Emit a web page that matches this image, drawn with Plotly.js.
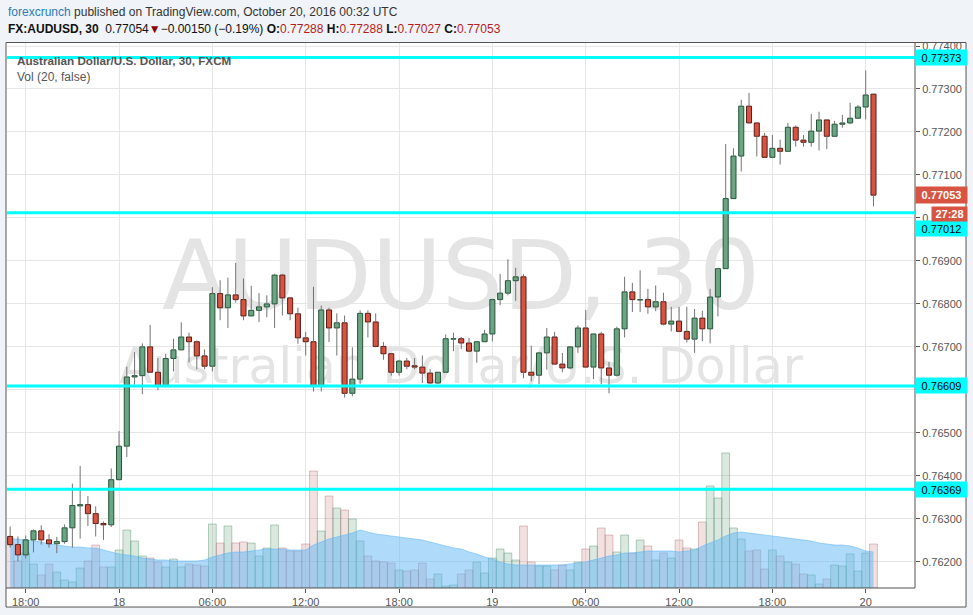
<!DOCTYPE html>
<html><head><meta charset="utf-8">
<script src="https://cdn.plot.ly/plotly-3.0.1.min.js"></script>
<style>html,body{margin:0;padding:0;background:#f0f3f7;}#chart{width:973px;height:615px;}</style>
</head><body><div id="chart"></div>
<script>
// 30-minute candles, FX:AUDUSD, starting 2016-10-17 17:00 UTC
const startUTC = Date.UTC(2016, 9, 17, 17, 0);
const barMs = 30 * 60 * 1000;

const open = [
0.76259,0.76240,0.76216,0.76251,0.76272,0.76251,0.76242,0.76247,0.76279,0.76330,
0.76333,0.76312,0.76289,0.76286,0.76391,0.76469,0.76630,0.76633,0.76700,0.76641,
0.76608,0.76673,0.76693,0.76723,0.76712,0.76679,0.76655,0.76824,0.76791,0.76821,
0.76810,0.76772,0.76785,0.76793,0.76800,0.76867,0.76814,0.76777,0.76721,0.76712,
0.76610,0.76786,0.76744,0.76756,0.76592,0.76625,0.76778,0.76758,0.76701,0.76684,
0.76641,0.76667,0.76656,0.76653,0.76639,0.76616,0.76641,0.76718,0.76719,0.76709,
0.76690,0.76712,0.76730,0.76810,0.76825,0.76854,0.76863,0.76641,0.76634,0.76686,
0.76723,0.76660,0.76651,0.76700,0.76744,0.76653,0.76730,0.76651,0.76634,0.76742,
0.76828,0.76809,0.76810,0.76793,0.76805,0.76753,0.76760,0.76736,0.76718,0.76767,
0.76742,0.76816,0.76882,0.77045,0.77144,0.77260,0.77221,0.77190,0.77141,0.77162,
0.77155,0.77211,0.77181,0.77176,0.77202,0.77228,0.77190,0.77218,0.77221,0.77232,
0.77258,0.77288];
const high = [
0.76282,0.76259,0.76261,0.76275,0.76285,0.76264,0.76258,0.76287,0.76382,0.76423,
0.76353,0.76329,0.76294,0.76417,0.76504,0.76654,0.76688,0.76708,0.76751,0.76674,
0.76684,0.76719,0.76757,0.76733,0.76715,0.76694,0.76839,0.76855,0.76861,0.76895,
0.76859,0.76842,0.76825,0.76820,0.76870,0.76870,0.76815,0.76791,0.76735,0.76840,
0.76796,0.76791,0.76778,0.76773,0.76699,0.76785,0.76785,0.76778,0.76711,0.76684,
0.76670,0.76674,0.76674,0.76680,0.76648,0.76641,0.76729,0.76733,0.76723,0.76721,
0.76712,0.76740,0.76812,0.76870,0.76904,0.76884,0.76869,0.76703,0.76686,0.76744,
0.76735,0.76686,0.76700,0.76750,0.76786,0.76730,0.76735,0.76665,0.76747,0.76863,
0.76849,0.76878,0.76835,0.76843,0.76826,0.76793,0.76793,0.76793,0.76788,0.76784,
0.76835,0.76884,0.77172,0.77162,0.77275,0.77291,0.77221,0.77198,0.77193,0.77182,
0.77221,0.77215,0.77193,0.77242,0.77247,0.77228,0.77226,0.77240,0.77268,0.77263,
0.77343,0.77288];
const low = [
0.76233,0.76201,0.76208,0.76222,0.76240,0.76233,0.76220,0.76242,0.76233,0.76254,
0.76283,0.76259,0.76251,0.76281,0.76390,0.76444,0.76612,0.76590,0.76639,0.76599,
0.76606,0.76643,0.76693,0.76664,0.76648,0.76648,0.76643,0.76762,0.76744,0.76803,
0.76762,0.76772,0.76758,0.76769,0.76744,0.76773,0.76762,0.76707,0.76680,0.76596,
0.76596,0.76711,0.76680,0.76582,0.76585,0.76614,0.76722,0.76699,0.76670,0.76633,
0.76633,0.76648,0.76648,0.76616,0.76614,0.76614,0.76641,0.76690,0.76695,0.76690,
0.76663,0.76712,0.76713,0.76797,0.76820,0.76807,0.76627,0.76620,0.76613,0.76647,
0.76660,0.76641,0.76648,0.76686,0.76653,0.76625,0.76613,0.76592,0.76631,0.76722,
0.76781,0.76781,0.76777,0.76783,0.76750,0.76736,0.76734,0.76710,0.76686,0.76713,
0.76708,0.76771,0.76882,0.77045,0.77108,0.77221,0.77143,0.77141,0.77140,0.77124,
0.77155,0.77166,0.77166,0.77166,0.77157,0.77160,0.77190,0.77210,0.77218,0.77232,
0.77229,0.77027];
const close = [
0.76240,0.76216,0.76251,0.76272,0.76251,0.76242,0.76247,0.76279,0.76331,0.76333,
0.76312,0.76289,0.76286,0.76391,0.76469,0.76630,0.76633,0.76700,0.76641,0.76608,
0.76673,0.76693,0.76723,0.76712,0.76679,0.76655,0.76824,0.76791,0.76821,0.76810,
0.76772,0.76785,0.76793,0.76800,0.76867,0.76814,0.76777,0.76721,0.76712,0.76610,
0.76786,0.76744,0.76756,0.76592,0.76625,0.76778,0.76758,0.76701,0.76684,0.76641,
0.76667,0.76655,0.76653,0.76639,0.76616,0.76641,0.76719,0.76719,0.76709,0.76690,
0.76712,0.76730,0.76810,0.76825,0.76854,0.76863,0.76641,0.76634,0.76686,0.76723,
0.76660,0.76651,0.76700,0.76744,0.76653,0.76730,0.76651,0.76634,0.76742,0.76828,
0.76810,0.76810,0.76793,0.76805,0.76753,0.76760,0.76736,0.76718,0.76767,0.76742,
0.76816,0.76882,0.77045,0.77144,0.77260,0.77221,0.77190,0.77141,0.77162,0.77155,
0.77211,0.77181,0.77176,0.77202,0.77228,0.77190,0.77218,0.77221,0.77232,0.77258,
0.77286,0.77053];
const volume = [
43,27,35,24,13,24,16,8,6,20,
27,43,21,21,38,58,47,32,30,26,
21,29,21,24,23,22,64,45,62,45,
46,45,32,40,63,40,37,37,44,117,
57,92,80,78,69,47,32,27,26,25,
18,17,18,25,9,14,2,3,14,18,
26,15,30,39,35,28,62,26,22,22,
18,23,18,26,39,42,60,53,36,53,
35,48,42,28,35,30,48,40,39,66,
102,90,135,60,49,37,38,19,38,32,
26,24,14,13,4,9,23,22,34,17,
35,44];
const volumeMA = [
49,49,48,47,46,44,43,42,41,41,
40,40,38,36,34,33,32,30,29,28,
28,27,27,27,27,28,31,33,35,36,
36,37,38,39,39,39,38,38,38,43,
46,49,51,53,55,58,56,54,53,52,
51,50,49,48,46,44,42,40,39,36,
34,31,29,26,24,23,23,23,23,23,
23,23,24,25,26,28,30,32,33,35,
35,36,37,37,37,37,36,37,38,42,
45,48,52,55,56,55,54,53,52,51,
50,49,48,47,45,44,43,43,42,40,
37,36];
const levels = [0.77373, 0.77012, 0.76609, 0.76369];
const levelLabelShift = [0, -16, 0, 0];
const lastPrice = 0.77053;
const countdown = '27:28';
const xTickVals = [
  Date.UTC(2016,9,17,18), Date.UTC(2016,9,18,0), Date.UTC(2016,9,18,6), Date.UTC(2016,9,18,12),
  Date.UTC(2016,9,18,18), Date.UTC(2016,9,19,0), Date.UTC(2016,9,19,6), Date.UTC(2016,9,19,12),
  Date.UTC(2016,9,19,18), Date.UTC(2016,9,20,0)];
const xTickText = ['18:00','18','06:00','12:00','18:00','19','06:00','12:00','18:00','20'];
const yTickVals = [0.762,0.763,0.764,0.765,0.766,0.767,0.768,0.769,0.770,0.771,0.772,0.773,0.774];
// labels as visible on the price scale (0.76600 is hidden under a level tag, 0.77000 mostly hidden)
const yTickText = ['0.76200','0.76300','0.76400','0.76500','','0.76700','0.76800','0.76900','0.','0.77100','0.77200','0.77300','0.77400'];
const xRange = [Date.UTC(2016,9,17,16,47,52), Date.UTC(2016,9,20,3,10,10)];
const yRange = [0.76139, 0.77407];

const times = open.map((_, i) => startUTC + i * barMs);
const up = open.map((o, i) => close[i] >= o);

// wick segments (above and below the body)
const wx = [], wy = [];
times.forEach((t, i) => {
  const top = Math.max(open[i], close[i]), bot = Math.min(open[i], close[i]);
  wx.push(t, t, null, t, t, null);
  wy.push(high[i], top, null, bot, low[i], null);
});

const FONT = 'Arial, "Liberation Sans", sans-serif';
const WM_FONT = '"DejaVu Sans", Verdana, sans-serif';
const midX = (xRange[0] + xRange[1]) / 2;

const traces = [
  { // watermark (bottom layer)
    type: 'scatter', mode: 'text', x: [midX, midX], y: [0.556, 0.398], xaxis: 'x', yaxis: 'y',
    text: ['AUDUSD, 30', 'Australian Dollar/U.S. Dollar'],
    textposition: 'middle center',
    textfont: { family: WM_FONT, size: [96, 49], color: '#e4e4e4' },
    hoverinfo: 'skip', showlegend: false
  },
  { // volume
    type: 'bar', x: times, y: volume, xaxis: 'x', yaxis: 'y2', width: barMs,
    marker: {
      color: up.map(u => u ? 'rgba(107,165,131,0.25)' : 'rgba(195,120,120,0.22)'),
      line: { color: up.map(u => u ? 'rgba(90,150,115,0.45)' : 'rgba(175,110,110,0.4)'), width: 1 }
    },
    hoverinfo: 'skip', showlegend: false
  },
  { // volume MA(20)
    type: 'scatter', mode: 'lines', x: times, y: volumeMA, xaxis: 'x', yaxis: 'y2',
    fill: 'tozeroy', fillcolor: 'rgba(95,182,245,0.5)',
    line: { color: 'rgba(95,182,245,0.55)', width: 1 },
    hoverinfo: 'skip', showlegend: false
  },
  { // candle bodies
    type: 'bar', x: times, xaxis: 'x', yaxis: 'y3', width: 19.5 * 60 * 1000,
    base: open.map((o, i) => Math.min(o, close[i])),
    y: open.map((o, i) => Math.max(Math.abs(close[i] - o), 0.000004)),
    marker: {
      color: up.map(u => u ? '#6ba583' : '#d75442'),
      line: { color: up.map(u => u ? '#225437' : '#5b1a13'), width: 1 }
    },
    hoverinfo: 'skip', showlegend: false
  },
  { // wicks
    type: 'scatter', mode: 'lines', x: wx, y: wy, xaxis: 'x', yaxis: 'y3',
    line: { color: '#737375', width: 1 }, connectgaps: false,
    hoverinfo: 'skip', showlegend: false
  }
];

const shapes = [
  { type: 'rect', xref: 'paper', yref: 'paper', x0: -0.0011, x1: 1.0562, y0: -0.0349, y1: 1.0009,
    fillcolor: '#ffffff', line: { color: '#555', width: 1 }, layer: 'below' },
  { type: 'line', xref: 'paper', yref: 'paper', x0: 1, x1: 1, y0: 0, y1: 1.0009, line: { color: '#555', width: 1 } },
  { type: 'line', xref: 'paper', yref: 'paper', x0: -0.0011, x1: 1, y0: 0, y1: 0, line: { color: '#555', width: 1 } }
];
levels.forEach(v => shapes.push({
  type: 'line', xref: 'paper', yref: 'y3', x0: 0, x1: 1, y0: v, y1: v,
  line: { color: '#00ffff', width: 3 }, layer: 'above'
}));

const red = '#b71c1c';
const fmt = v => v.toFixed(5);
const n = open.length - 1;
const annotations = [
  { xref: 'paper', yref: 'paper', x: -0.0011, y: 1.0569, xanchor: 'left', yanchor: 'middle', showarrow: false,
    text: '<span style="color:#2b7bb9">forexcrunch</span> published on TradingView.com, October 20, 2016 00:32 UTC',
    font: { family: FONT, size: 12, color: '#333' } },
  { xref: 'paper', yref: 'paper', x: -0.0011, y: 1.0257, xanchor: 'left', yanchor: 'middle', showarrow: false,
    text: '<b>FX:AUDUSD, 30</b>  0.77054<span style="color:#8b0000">▼</span>−0.00150 (−0.19%) ' +
      '<b>O:</b><span style="color:' + red + '">' + fmt(open[n]) + '</span> ' +
      '<b>H:</b><span style="color:' + red + '">' + fmt(high[n]) + '</span> ' +
      '<b>L:</b><span style="color:' + red + '">' + fmt(low[n]) + '</span> ' +
      '<b>C:</b><span style="color:' + red + '">' + fmt(close[n]) + '</span>',
    font: { family: FONT, size: 12, color: '#111' } },
  { xref: 'paper', yref: 'paper', x: 0.0088, y: 0.9688, xanchor: 'left', yanchor: 'middle', showarrow: false,
    text: '<b>Australian Dollar/U.S. Dollar, 30, FXCM</b>', font: { family: FONT, size: 11.7, color: '#555' } },
  { xref: 'paper', yref: 'paper', x: 0.0088, y: 0.9376, xanchor: 'left', yanchor: 'middle', showarrow: false,
    text: 'Vol (20, false)', font: { family: FONT, size: 12, color: '#555' } }
];
levels.forEach((v, i) => annotations.push({
  xref: 'paper', yref: 'y3', x: 1, y: v, xanchor: 'left', yanchor: 'middle', yshift: levelLabelShift[i],
  showarrow: false, text: fmt(v), bgcolor: '#00ffff', width: 47, height: 11, borderpad: 2, align: 'center',
  font: { family: FONT, size: 11, color: '#000' }
}));
annotations.push({
  xref: 'paper', yref: 'y3', x: 1, y: lastPrice, xanchor: 'left', yanchor: 'middle',
  showarrow: false, text: '<b>' + fmt(lastPrice) + '</b>', bgcolor: '#d75442', width: 47, height: 12, borderpad: 2,
  align: 'center', font: { family: FONT, size: 11, color: '#fff' }
});
annotations.push({
  xref: 'paper', yref: 'y3', x: 1, y: lastPrice, xanchor: 'left', yanchor: 'middle', xshift: 16, yshift: -19,
  showarrow: false, text: '<b>' + countdown + '</b>', bgcolor: '#d75442', width: 31, height: 10, borderpad: 2,
  align: 'center', font: { family: FONT, size: 11, color: '#fff' }
});

const layout = {
  width: 973, height: 615,
  margin: { l: 7, r: 58, t: 43, b: 27, pad: 0 },
  paper_bgcolor: '#f0f3f7', plot_bgcolor: '#ffffff',
  showlegend: false, barmode: 'overlay', hovermode: false,
  xaxis: {
    type: 'date', range: xRange, tickmode: 'array', tickvals: xTickVals, ticktext: xTickText,
    showgrid: true, gridcolor: '#e6e6e6', gridwidth: 1, zeroline: false, showline: false,
    ticks: 'outside', ticklen: 4, tickcolor: '#555',
    tickfont: { family: FONT, size: 11, color: '#555' }, fixedrange: true
  },
  yaxis: { range: [0, 1], visible: false, fixedrange: true },
  yaxis2: { range: [0, 545], overlaying: 'y', visible: false, fixedrange: true },
  yaxis3: {
    range: yRange, overlaying: 'y', side: 'right', anchor: 'x',
    tickmode: 'array', tickvals: yTickVals, ticktext: yTickText,
    showgrid: true, gridcolor: '#e6e6e6', zeroline: false, showline: false,
    ticks: 'outside', ticklen: 4, tickcolor: '#555',
    tickfont: { family: FONT, size: 11, color: '#555' }, fixedrange: true
  },
  shapes: shapes,
  annotations: annotations
};

Plotly.newPlot('chart', traces, layout, { displayModeBar: false, staticPlot: true });
</script>
</body></html>
